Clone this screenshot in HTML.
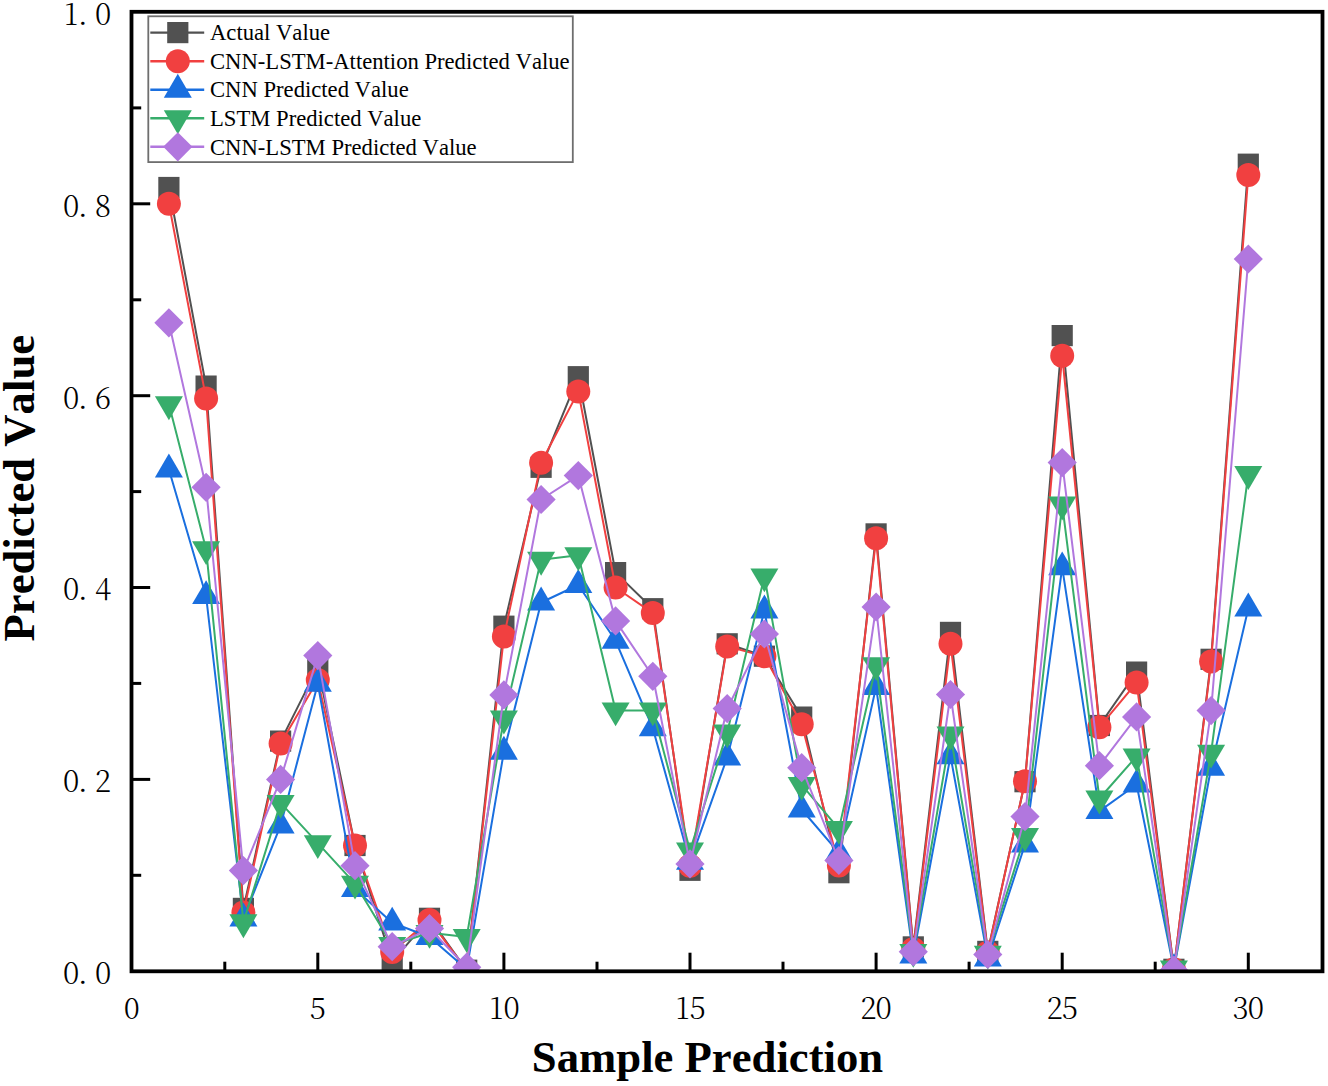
<!DOCTYPE html>
<html lang="en">
<head>
<meta charset="utf-8">
<title>Sample Prediction</title>
<style>
html,body{margin:0;padding:0;background:#fff;}
body{width:1328px;height:1086px;overflow:hidden;}
svg{display:block;}
.tick{font-family:"Noto Serif CJK SC","Liberation Serif",serif;font-weight:300;font-size:29.6px;fill:#000;text-anchor:middle;}
.leg{font-family:"Liberation Serif",serif;font-size:22.65px;fill:#000;font-kerning:none;}
.ax{font-family:"Liberation Serif",serif;font-weight:bold;font-size:44.7px;fill:#000;text-anchor:middle;font-kerning:none;}
</style>
</head>
<body>
<svg width="1328" height="1086" viewBox="0 0 1328 1086">
<rect x="0" y="0" width="1328" height="1086" fill="#fff"/>
<defs><clipPath id="plot"><rect x="131.7" y="12" width="1190.8" height="959.2"/></clipPath></defs>

<g clip-path="url(#plot)">
<polyline points="168.9,187.5 206.1,386.1 243.4,908.4 280.6,741.1 317.8,667.1 355.0,845.5 392.2,961.6 429.5,918.3 466.7,970.2 503.9,626.2 541.1,467.3 578.3,376.7 615.6,572.6 652.8,608.7 690.0,870.3 727.2,643.8 764.4,656.2 801.7,717.1 838.9,872.7 876.1,533.9 913.3,946.9 950.5,632.4 987.8,951.4 1025.0,781.7 1062.2,335.6 1099.4,725.5 1136.6,672.1 1173.9,969.3 1211.1,659.3 1248.3,164.2" fill="none" stroke="#515151" stroke-width="2.0" stroke-linejoin="round"/>
<rect x="158.3" y="176.9" width="21.2" height="21.2" fill="#515151"/>
<rect x="195.5" y="375.5" width="21.2" height="21.2" fill="#515151"/>
<rect x="232.8" y="897.8" width="21.2" height="21.2" fill="#515151"/>
<rect x="270.0" y="730.5" width="21.2" height="21.2" fill="#515151"/>
<rect x="307.2" y="656.5" width="21.2" height="21.2" fill="#515151"/>
<rect x="344.4" y="834.9" width="21.2" height="21.2" fill="#515151"/>
<rect x="381.6" y="951.0" width="21.2" height="21.2" fill="#515151"/>
<rect x="418.9" y="907.7" width="21.2" height="21.2" fill="#515151"/>
<rect x="456.1" y="959.6" width="21.2" height="21.2" fill="#515151"/>
<rect x="493.3" y="615.6" width="21.2" height="21.2" fill="#515151"/>
<rect x="530.5" y="456.7" width="21.2" height="21.2" fill="#515151"/>
<rect x="567.7" y="366.1" width="21.2" height="21.2" fill="#515151"/>
<rect x="605.0" y="562.0" width="21.2" height="21.2" fill="#515151"/>
<rect x="642.2" y="598.1" width="21.2" height="21.2" fill="#515151"/>
<rect x="679.4" y="859.7" width="21.2" height="21.2" fill="#515151"/>
<rect x="716.6" y="633.2" width="21.2" height="21.2" fill="#515151"/>
<rect x="753.8" y="645.6" width="21.2" height="21.2" fill="#515151"/>
<rect x="791.1" y="706.5" width="21.2" height="21.2" fill="#515151"/>
<rect x="828.3" y="862.1" width="21.2" height="21.2" fill="#515151"/>
<rect x="865.5" y="523.3" width="21.2" height="21.2" fill="#515151"/>
<rect x="902.7" y="936.3" width="21.2" height="21.2" fill="#515151"/>
<rect x="939.9" y="621.8" width="21.2" height="21.2" fill="#515151"/>
<rect x="977.2" y="940.8" width="21.2" height="21.2" fill="#515151"/>
<rect x="1014.4" y="771.1" width="21.2" height="21.2" fill="#515151"/>
<rect x="1051.6" y="325.0" width="21.2" height="21.2" fill="#515151"/>
<rect x="1088.8" y="714.9" width="21.2" height="21.2" fill="#515151"/>
<rect x="1126.0" y="661.5" width="21.2" height="21.2" fill="#515151"/>
<rect x="1163.3" y="958.7" width="21.2" height="21.2" fill="#515151"/>
<rect x="1200.5" y="648.7" width="21.2" height="21.2" fill="#515151"/>
<rect x="1237.7" y="153.6" width="21.2" height="21.2" fill="#515151"/>
<polyline points="168.9,203.8 206.1,398.6 243.4,912.5 280.6,743.4 317.8,680.1 355.0,845.5 392.2,952.0 429.5,920.1 466.7,970.2 503.9,636.6 541.1,462.8 578.3,391.6 615.6,587.5 652.8,613.1 690.0,865.7 727.2,646.4 764.4,656.3 801.7,724.3 838.9,865.5 876.1,538.3 913.3,948.9 950.5,643.7 987.8,952.5 1025.0,781.3 1062.2,355.7 1099.4,727.2 1136.6,682.6 1173.9,969.3 1211.1,661.5 1248.3,175.1" fill="none" stroke="#F14040" stroke-width="2.0" stroke-linejoin="round"/>
<circle cx="168.9" cy="203.8" r="12.0" fill="#F14040"/>
<circle cx="206.1" cy="398.6" r="12.0" fill="#F14040"/>
<circle cx="243.4" cy="912.5" r="12.0" fill="#F14040"/>
<circle cx="280.6" cy="743.4" r="12.0" fill="#F14040"/>
<circle cx="317.8" cy="680.1" r="12.0" fill="#F14040"/>
<circle cx="355.0" cy="845.5" r="12.0" fill="#F14040"/>
<circle cx="392.2" cy="952.0" r="12.0" fill="#F14040"/>
<circle cx="429.5" cy="920.1" r="12.0" fill="#F14040"/>
<circle cx="466.7" cy="970.2" r="12.0" fill="#F14040"/>
<circle cx="503.9" cy="636.6" r="12.0" fill="#F14040"/>
<circle cx="541.1" cy="462.8" r="12.0" fill="#F14040"/>
<circle cx="578.3" cy="391.6" r="12.0" fill="#F14040"/>
<circle cx="615.6" cy="587.5" r="12.0" fill="#F14040"/>
<circle cx="652.8" cy="613.1" r="12.0" fill="#F14040"/>
<circle cx="690.0" cy="865.7" r="12.0" fill="#F14040"/>
<circle cx="727.2" cy="646.4" r="12.0" fill="#F14040"/>
<circle cx="764.4" cy="656.3" r="12.0" fill="#F14040"/>
<circle cx="801.7" cy="724.3" r="12.0" fill="#F14040"/>
<circle cx="838.9" cy="865.5" r="12.0" fill="#F14040"/>
<circle cx="876.1" cy="538.3" r="12.0" fill="#F14040"/>
<circle cx="913.3" cy="948.9" r="12.0" fill="#F14040"/>
<circle cx="950.5" cy="643.7" r="12.0" fill="#F14040"/>
<circle cx="987.8" cy="952.5" r="12.0" fill="#F14040"/>
<circle cx="1025.0" cy="781.3" r="12.0" fill="#F14040"/>
<circle cx="1062.2" cy="355.7" r="12.0" fill="#F14040"/>
<circle cx="1099.4" cy="727.2" r="12.0" fill="#F14040"/>
<circle cx="1136.6" cy="682.6" r="12.0" fill="#F14040"/>
<circle cx="1173.9" cy="969.3" r="12.0" fill="#F14040"/>
<circle cx="1211.1" cy="661.5" r="12.0" fill="#F14040"/>
<circle cx="1248.3" cy="175.1" r="12.0" fill="#F14040"/>
<polyline points="168.9,469.5 206.1,596.2 243.4,918.5 280.6,825.4 317.8,683.7 355.0,889.1 392.2,922.7 429.5,937.0 466.7,969.3 503.9,751.7 541.1,602.5 578.3,585.0 615.6,640.8 652.8,728.2 690.0,861.9 727.2,757.4 764.4,610.5 801.7,809.5 838.9,852.9 876.1,686.9 913.3,955.7 950.5,756.2 987.8,958.4 1025.0,844.5 1062.2,567.4 1099.4,811.1 1136.6,784.5 1173.9,969.3 1211.1,767.8 1248.3,608.4" fill="none" stroke="#1A6FDF" stroke-width="2.0" stroke-linejoin="round"/>
<polygon points="168.9,453.6 182.9,477.5 154.9,477.5" fill="#1A6FDF"/>
<polygon points="206.1,580.2 220.1,604.1 192.1,604.1" fill="#1A6FDF"/>
<polygon points="243.4,902.6 257.4,926.5 229.4,926.5" fill="#1A6FDF"/>
<polygon points="280.6,809.5 294.6,833.4 266.6,833.4" fill="#1A6FDF"/>
<polygon points="317.8,667.8 331.8,691.7 303.8,691.7" fill="#1A6FDF"/>
<polygon points="355.0,873.2 369.0,897.1 341.0,897.1" fill="#1A6FDF"/>
<polygon points="392.2,906.7 406.2,930.6 378.2,930.6" fill="#1A6FDF"/>
<polygon points="429.5,921.0 443.5,944.9 415.5,944.9" fill="#1A6FDF"/>
<polygon points="466.7,953.3 480.7,977.2 452.7,977.2" fill="#1A6FDF"/>
<polygon points="503.9,735.8 517.9,759.7 489.9,759.7" fill="#1A6FDF"/>
<polygon points="541.1,586.6 555.1,610.5 527.1,610.5" fill="#1A6FDF"/>
<polygon points="578.3,569.1 592.3,593.0 564.3,593.0" fill="#1A6FDF"/>
<polygon points="615.6,624.8 629.6,648.7 601.6,648.7" fill="#1A6FDF"/>
<polygon points="652.8,712.3 666.8,736.2 638.8,736.2" fill="#1A6FDF"/>
<polygon points="690.0,845.9 704.0,869.8 676.0,869.8" fill="#1A6FDF"/>
<polygon points="727.2,741.5 741.2,765.4 713.2,765.4" fill="#1A6FDF"/>
<polygon points="764.4,594.6 778.4,618.5 750.4,618.5" fill="#1A6FDF"/>
<polygon points="801.7,793.5 815.7,817.4 787.7,817.4" fill="#1A6FDF"/>
<polygon points="838.9,837.0 852.9,860.9 824.9,860.9" fill="#1A6FDF"/>
<polygon points="876.1,671.0 890.1,694.9 862.1,694.9" fill="#1A6FDF"/>
<polygon points="913.3,939.7 927.3,963.6 899.3,963.6" fill="#1A6FDF"/>
<polygon points="950.5,740.3 964.5,764.2 936.5,764.2" fill="#1A6FDF"/>
<polygon points="987.8,942.5 1001.8,966.4 973.8,966.4" fill="#1A6FDF"/>
<polygon points="1025.0,828.6 1039.0,852.5 1011.0,852.5" fill="#1A6FDF"/>
<polygon points="1062.2,551.4 1076.2,575.3 1048.2,575.3" fill="#1A6FDF"/>
<polygon points="1099.4,795.2 1113.4,819.1 1085.4,819.1" fill="#1A6FDF"/>
<polygon points="1136.6,768.6 1150.6,792.5 1122.6,792.5" fill="#1A6FDF"/>
<polygon points="1173.9,953.3 1187.9,977.2 1159.9,977.2" fill="#1A6FDF"/>
<polygon points="1211.1,751.8 1225.1,775.7 1197.1,775.7" fill="#1A6FDF"/>
<polygon points="1248.3,592.5 1262.3,616.4 1234.3,616.4" fill="#1A6FDF"/>
<polyline points="168.9,404.3 206.1,549.2 243.4,922.3 280.6,802.9 317.8,843.1 355.0,883.6 392.2,945.0 429.5,932.8 466.7,937.0 503.9,718.5 541.1,559.8 578.3,555.3 615.6,710.4 652.8,710.4 690.0,850.5 727.2,732.4 764.4,576.4 801.7,784.8 838.9,828.9 876.1,665.2 913.3,951.8 950.5,734.6 987.8,953.6 1025.0,836.0 1062.2,504.5 1099.4,798.5 1136.6,756.3 1173.9,968.3 1211.1,752.7 1248.3,474.0" fill="none" stroke="#37AD6B" stroke-width="2.0" stroke-linejoin="round"/>
<polygon points="168.9,420.2 182.9,396.3 154.9,396.3" fill="#37AD6B"/>
<polygon points="206.1,565.1 220.1,541.2 192.1,541.2" fill="#37AD6B"/>
<polygon points="243.4,938.2 257.4,914.3 229.4,914.3" fill="#37AD6B"/>
<polygon points="280.6,818.8 294.6,794.9 266.6,794.9" fill="#37AD6B"/>
<polygon points="317.8,859.1 331.8,835.2 303.8,835.2" fill="#37AD6B"/>
<polygon points="355.0,899.6 369.0,875.7 341.0,875.7" fill="#37AD6B"/>
<polygon points="392.2,960.9 406.2,937.0 378.2,937.0" fill="#37AD6B"/>
<polygon points="429.5,948.8 443.5,924.9 415.5,924.9" fill="#37AD6B"/>
<polygon points="466.7,952.9 480.7,929.0 452.7,929.0" fill="#37AD6B"/>
<polygon points="503.9,734.4 517.9,710.5 489.9,710.5" fill="#37AD6B"/>
<polygon points="541.1,575.7 555.1,551.8 527.1,551.8" fill="#37AD6B"/>
<polygon points="578.3,571.2 592.3,547.3 564.3,547.3" fill="#37AD6B"/>
<polygon points="615.6,726.3 629.6,702.4 601.6,702.4" fill="#37AD6B"/>
<polygon points="652.8,726.3 666.8,702.4 638.8,702.4" fill="#37AD6B"/>
<polygon points="690.0,866.5 704.0,842.6 676.0,842.6" fill="#37AD6B"/>
<polygon points="727.2,748.3 741.2,724.4 713.2,724.4" fill="#37AD6B"/>
<polygon points="764.4,592.3 778.4,568.4 750.4,568.4" fill="#37AD6B"/>
<polygon points="801.7,800.8 815.7,776.9 787.7,776.9" fill="#37AD6B"/>
<polygon points="838.9,844.8 852.9,820.9 824.9,820.9" fill="#37AD6B"/>
<polygon points="876.1,681.1 890.1,657.2 862.1,657.2" fill="#37AD6B"/>
<polygon points="913.3,967.8 927.3,943.9 899.3,943.9" fill="#37AD6B"/>
<polygon points="950.5,750.5 964.5,726.6 936.5,726.6" fill="#37AD6B"/>
<polygon points="987.8,969.6 1001.8,945.7 973.8,945.7" fill="#37AD6B"/>
<polygon points="1025.0,852.0 1039.0,828.1 1011.0,828.1" fill="#37AD6B"/>
<polygon points="1062.2,520.4 1076.2,496.5 1048.2,496.5" fill="#37AD6B"/>
<polygon points="1099.4,814.5 1113.4,790.6 1085.4,790.6" fill="#37AD6B"/>
<polygon points="1136.6,772.3 1150.6,748.4 1122.6,748.4" fill="#37AD6B"/>
<polygon points="1173.9,984.3 1187.9,960.4 1159.9,960.4" fill="#37AD6B"/>
<polygon points="1211.1,768.6 1225.1,744.7 1197.1,744.7" fill="#37AD6B"/>
<polygon points="1248.3,489.9 1262.3,466.0 1234.3,466.0" fill="#37AD6B"/>
<polyline points="168.9,322.8 206.1,487.3 243.4,870.6 280.6,779.4 317.8,655.6 355.0,865.7 392.2,946.7 429.5,928.5 466.7,967.2 503.9,694.9 541.1,499.5 578.3,475.6 615.6,620.9 652.8,676.3 690.0,863.9 727.2,708.6 764.4,634.0 801.7,767.7 838.9,860.5 876.1,607.0 913.3,951.8 950.5,694.5 987.8,954.5 1025.0,816.6 1062.2,462.6 1099.4,765.7 1136.6,716.9 1173.9,970.2 1211.1,710.6 1248.3,259.0" fill="none" stroke="#B177DE" stroke-width="2.0" stroke-linejoin="round"/>
<polygon points="168.9,308.2 183.5,322.8 168.9,337.4 154.3,322.8" fill="#B177DE"/>
<polygon points="206.1,472.7 220.7,487.3 206.1,501.9 191.5,487.3" fill="#B177DE"/>
<polygon points="243.4,856.0 258.0,870.6 243.4,885.2 228.8,870.6" fill="#B177DE"/>
<polygon points="280.6,764.8 295.2,779.4 280.6,794.0 266.0,779.4" fill="#B177DE"/>
<polygon points="317.8,641.0 332.4,655.6 317.8,670.2 303.2,655.6" fill="#B177DE"/>
<polygon points="355.0,851.1 369.6,865.7 355.0,880.3 340.4,865.7" fill="#B177DE"/>
<polygon points="392.2,932.1 406.8,946.7 392.2,961.3 377.6,946.7" fill="#B177DE"/>
<polygon points="429.5,913.9 444.1,928.5 429.5,943.1 414.9,928.5" fill="#B177DE"/>
<polygon points="466.7,952.6 481.3,967.2 466.7,981.8 452.1,967.2" fill="#B177DE"/>
<polygon points="503.9,680.3 518.5,694.9 503.9,709.5 489.3,694.9" fill="#B177DE"/>
<polygon points="541.1,484.9 555.7,499.5 541.1,514.1 526.5,499.5" fill="#B177DE"/>
<polygon points="578.3,461.0 592.9,475.6 578.3,490.2 563.7,475.6" fill="#B177DE"/>
<polygon points="615.6,606.3 630.2,620.9 615.6,635.5 601.0,620.9" fill="#B177DE"/>
<polygon points="652.8,661.7 667.4,676.3 652.8,690.9 638.2,676.3" fill="#B177DE"/>
<polygon points="690.0,849.3 704.6,863.9 690.0,878.5 675.4,863.9" fill="#B177DE"/>
<polygon points="727.2,694.0 741.8,708.6 727.2,723.2 712.6,708.6" fill="#B177DE"/>
<polygon points="764.4,619.4 779.0,634.0 764.4,648.6 749.8,634.0" fill="#B177DE"/>
<polygon points="801.7,753.1 816.3,767.7 801.7,782.3 787.1,767.7" fill="#B177DE"/>
<polygon points="838.9,845.9 853.5,860.5 838.9,875.1 824.3,860.5" fill="#B177DE"/>
<polygon points="876.1,592.4 890.7,607.0 876.1,621.6 861.5,607.0" fill="#B177DE"/>
<polygon points="913.3,937.2 927.9,951.8 913.3,966.4 898.7,951.8" fill="#B177DE"/>
<polygon points="950.5,679.9 965.1,694.5 950.5,709.1 935.9,694.5" fill="#B177DE"/>
<polygon points="987.8,939.9 1002.4,954.5 987.8,969.1 973.2,954.5" fill="#B177DE"/>
<polygon points="1025.0,802.0 1039.6,816.6 1025.0,831.2 1010.4,816.6" fill="#B177DE"/>
<polygon points="1062.2,448.0 1076.8,462.6 1062.2,477.2 1047.6,462.6" fill="#B177DE"/>
<polygon points="1099.4,751.1 1114.0,765.7 1099.4,780.3 1084.8,765.7" fill="#B177DE"/>
<polygon points="1136.6,702.3 1151.2,716.9 1136.6,731.5 1122.0,716.9" fill="#B177DE"/>
<polygon points="1173.9,955.6 1188.5,970.2 1173.9,984.8 1159.3,970.2" fill="#B177DE"/>
<polygon points="1211.1,696.0 1225.7,710.6 1211.1,725.2 1196.5,710.6" fill="#B177DE"/>
<polygon points="1248.3,244.4 1262.9,259.0 1248.3,273.6 1233.7,259.0" fill="#B177DE"/>
</g>
<g stroke="#000" stroke-width="3.0" fill="none">
<line x1="131.7" y1="875.3" x2="141.2" y2="875.3"/>
<line x1="131.7" y1="779.4" x2="150.2" y2="779.4"/>
<line x1="131.7" y1="683.4" x2="141.2" y2="683.4"/>
<line x1="131.7" y1="587.5" x2="150.2" y2="587.5"/>
<line x1="131.7" y1="491.6" x2="141.2" y2="491.6"/>
<line x1="131.7" y1="395.7" x2="150.2" y2="395.7"/>
<line x1="131.7" y1="299.8" x2="141.2" y2="299.8"/>
<line x1="131.7" y1="203.8" x2="150.2" y2="203.8"/>
<line x1="131.7" y1="107.9" x2="141.2" y2="107.9"/>
<line x1="224.8" y1="971.2" x2="224.8" y2="961.7"/>
<line x1="317.8" y1="971.2" x2="317.8" y2="952.7"/>
<line x1="410.8" y1="971.2" x2="410.8" y2="961.7"/>
<line x1="503.9" y1="971.2" x2="503.9" y2="952.7"/>
<line x1="597.0" y1="971.2" x2="597.0" y2="961.7"/>
<line x1="690.0" y1="971.2" x2="690.0" y2="952.7"/>
<line x1="783.0" y1="971.2" x2="783.0" y2="961.7"/>
<line x1="876.1" y1="971.2" x2="876.1" y2="952.7"/>
<line x1="969.1" y1="971.2" x2="969.1" y2="961.7"/>
<line x1="1062.2" y1="971.2" x2="1062.2" y2="952.7"/>
<line x1="1155.2" y1="971.2" x2="1155.2" y2="961.7"/>
<line x1="1248.3" y1="971.2" x2="1248.3" y2="952.7"/>
</g>
<rect x="131.5" y="11.8" width="1191.0" height="959.5" fill="none" stroke="#000" stroke-width="3.8"/>
<text class="tick" x="71.0 82.9 103" y="984.1">0.0</text>
<text class="tick" x="71.0 82.9 103" y="792.3">0.2</text>
<text class="tick" x="71.0 82.9 103" y="600.4">0.4</text>
<text class="tick" x="71.0 82.9 103" y="408.6">0.6</text>
<text class="tick" x="71.0 82.9 103" y="216.7">0.8</text>
<text class="tick" x="71.0 82.9 103" y="24.9">1.0</text>
<text class="tick" x="131.7" y="1018.9">0</text>
<text class="tick" x="317.8" y="1018.9">5</text>
<text class="tick" x="496.3 511.5" y="1018.9">10</text>
<text class="tick" x="682.4 697.6" y="1018.9">15</text>
<text class="tick" x="868.5 883.7" y="1018.9">20</text>
<text class="tick" x="1054.6 1069.8" y="1018.9">25</text>
<text class="tick" x="1240.7 1255.9" y="1018.9">30</text>
<text class="ax" x="707.5" y="1071.6">Sample Prediction</text>
<text class="ax" transform="translate(33.6,488.2) rotate(-90)" x="0" y="0">Predicted Value</text>
<rect x="148.3" y="16.3" width="424.5" height="145.8" fill="#fff" stroke="#6e6e6e" stroke-width="1.8"/>
<line x1="150.3" y1="32.6" x2="204.2" y2="32.6" stroke="#515151" stroke-width="2.4"/>
<rect x="167.2" y="22.0" width="21.2" height="21.2" fill="#515151"/>
<text class="leg" x="210.0" y="40.3">Actual Value</text>
<line x1="150.3" y1="61.2" x2="204.2" y2="61.2" stroke="#F14040" stroke-width="2.4"/>
<circle cx="177.8" cy="61.2" r="12.0" fill="#F14040"/>
<text class="leg" x="210.0" y="68.9">CNN-LSTM-Attention Predicted Value</text>
<line x1="150.3" y1="89.7" x2="204.2" y2="89.7" stroke="#1A6FDF" stroke-width="2.4"/>
<polygon points="177.8,73.8 191.8,97.7 163.8,97.7" fill="#1A6FDF"/>
<text class="leg" x="210.0" y="97.4">CNN Predicted Value</text>
<line x1="150.3" y1="118.2" x2="204.2" y2="118.2" stroke="#37AD6B" stroke-width="2.4"/>
<polygon points="177.8,134.2 191.8,110.3 163.8,110.3" fill="#37AD6B"/>
<text class="leg" x="210.0" y="126.0">LSTM Predicted Value</text>
<line x1="150.3" y1="146.8" x2="204.2" y2="146.8" stroke="#B177DE" stroke-width="2.4"/>
<polygon points="177.8,132.2 192.4,146.8 177.8,161.4 163.2,146.8" fill="#B177DE"/>
<text class="leg" x="210.0" y="154.5">CNN-LSTM Predicted Value</text>
</svg>
</body>
</html>
